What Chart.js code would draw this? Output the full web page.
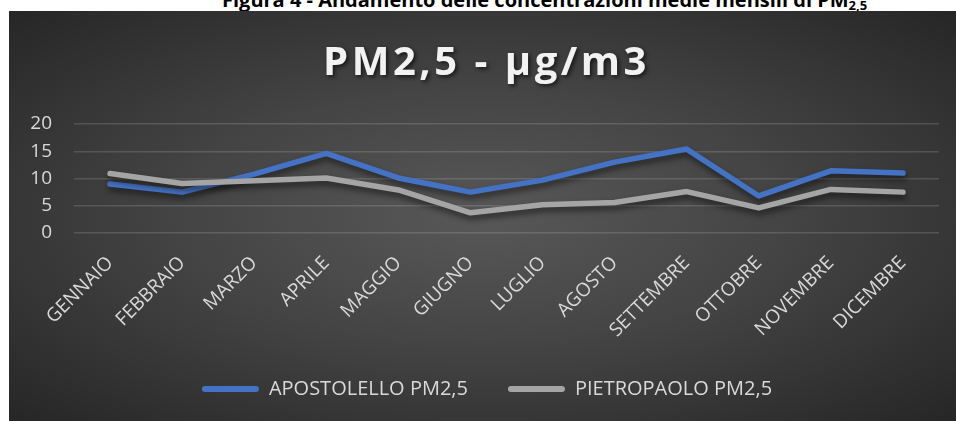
<!DOCTYPE html>
<html lang="it">
<head>
<meta charset="utf-8">
<script src="https://cdn.jsdelivr.net/npm/chart.js@4/dist/chart.umd.min.js"></script>
<style>
  html, body { margin: 0; padding: 0; background: #ffffff; width: 956px; height: 421px; overflow: hidden; }
  #caption {
    position: absolute; left: 222px; top: -11px;
    font-family: "Open Sans", sans-serif; font-weight: 700; font-size: 20px; line-height: 21px;
    color: #000; white-space: nowrap;
  }
  #caption sub { font-size: 13px; vertical-align: -3px; line-height: 0; }
  #panel {
    position: absolute; left: 9px; top: 11px; width: 947px; height: 410px;
    background: radial-gradient(ellipse farthest-corner at 50% 50%, #585858 0%, #444444 45%, #262626 100%);
  }
  #title {
    position: absolute; left: 4px; top: 21px; width: 947px; text-align: center;
    font-family: "Open Sans", sans-serif; font-weight: 700; font-size: 40px; line-height: 56px;
    letter-spacing: 3.5px; color: #f2f2f2; text-shadow: 2px 2px 4px rgba(0,0,0,0.65);
    white-space: nowrap;
  }
  #chartBox { position: absolute; left: 0; top: 0; width: 947px; height: 410px; }
</style>
</head>
<body>
<div id="caption">Figura 4 - Andamento delle concentrazioni medie mensili di PM<sub>2,5</sub></div>
<div id="panel">
  <div id="chartBox"><canvas id="chart"></canvas></div>
  <div id="title">PM2,5 - µg/m3</div>
</div>
<script>
// Monthly averages of PM2,5 (µg/m3) at the two stations
const months = ['GENNAIO', 'FEBBRAIO', 'MARZO', 'APRILE', 'MAGGIO', 'GIUGNO',
                'LUGLIO', 'AGOSTO', 'SETTEMBRE', 'OTTOBRE', 'NOVEMBRE', 'DICEMBRE'];
const apostolello = [9.0, 7.5, 10.8, 14.6, 10.1, 7.5, 9.7, 13.0, 15.4, 6.8, 11.4, 11.0];
const pietropaolo = [10.9, 9.1, 9.6, 10.1, 7.9, 3.7, 5.2, 5.6, 7.6, 4.6, 8.0, 7.5];
const seriesNames = ['APOSTOLELLO PM2,5', 'PIETROPAOLO PM2,5'];
const yTicks = [0, 5, 10, 15, 20];

const labelColor = '#d9d9d9';
const font = 'Open Sans';

// soft drop shadow under each line
const lineShadow = {
  id: 'lineShadow',
  beforeDatasetDraw(chart) {
    const ctx = chart.ctx;
    ctx.save();
    ctx.shadowColor = 'rgba(0,0,0,0.55)';
    ctx.shadowBlur = 6;
    ctx.shadowOffsetX = 1;
    ctx.shadowOffsetY = 4;
  },
  afterDatasetDraw(chart) {
    chart.ctx.restore();
  }
};

// nudge the legend block sideways
const legendShift = {
  id: 'legendShift',
  afterLayout(chart) {
    if (chart.legend) {
      chart.legend.left += 13;
      chart.legend.right += 13;
    }
  }
};

new Chart(document.getElementById('chart'), {
  type: 'line',
  data: {
    labels: months,
    datasets: [
      {
        label: seriesNames[0], data: apostolello,
        borderColor: '#4472c4', backgroundColor: '#4472c4',
        borderWidth: 5.5, pointRadius: 0, tension: 0, order: 1,
        borderCapStyle: 'round', borderJoinStyle: 'round'
      },
      {
        label: seriesNames[1], data: pietropaolo,
        borderColor: '#a5a5a5', backgroundColor: '#a5a5a5',
        borderWidth: 5.5, pointRadius: 0, tension: 0, order: 0,
        borderCapStyle: 'round', borderJoinStyle: 'round'
      }
    ]
  },
  options: {
    responsive: true,
    maintainAspectRatio: false,
    animation: false,
    layout: { padding: { top: 113, right: 17, left: 0, bottom: 12 } },
    scales: {
      y: {
        min: 0, max: 20,
        afterBuildTicks(scale) { scale.ticks = yTicks.map(v => ({ value: v })); },
        afterFit(scale) { scale.width = 65; },
        ticks: { color: labelColor, font: { family: font, size: 19 }, padding: 22, autoSkip: false },
        grid: { color: 'rgba(255,255,255,0.14)', lineWidth: 1.5, drawTicks: false },
        border: { display: false }
      },
      x: {
        offset: true,
        afterFit(scale) { scale.height = 106; },
        ticks: {
          color: labelColor, font: { family: font, size: 19 },
          minRotation: 45, maxRotation: 45, padding: 19, autoSkip: false
        },
        grid: { display: false, drawTicks: false },
        border: { display: false }
      }
    },
    plugins: {
      title: { display: false },
      tooltip: { enabled: false },
      legend: {
        position: 'bottom',
        labels: {
          color: labelColor, font: { family: font, size: 20 },
          boxWidth: 57, boxHeight: 6, padding: 40,
          useBorderRadius: true, borderRadius: 3,
          generateLabels(chart) {
            return chart.data.datasets.map((ds, i) => ({
              text: ds.label, fillStyle: ds.borderColor, strokeStyle: ds.borderColor,
              lineWidth: 0, fontColor: labelColor, datasetIndex: i, hidden: false,
              borderRadius: 3
            }));
          }
        }
      }
    }
  },
  plugins: [lineShadow, legendShift]
});
</script>
</body>
</html>
